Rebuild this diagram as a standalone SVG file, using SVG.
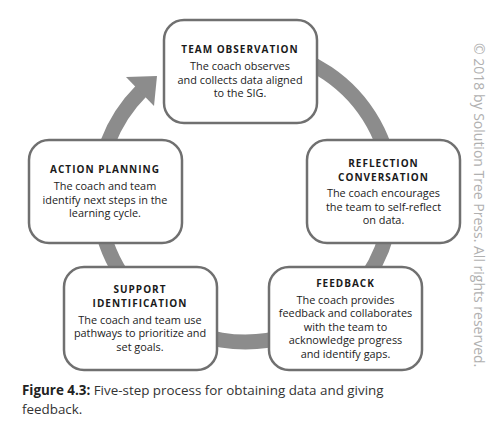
<svg xmlns="http://www.w3.org/2000/svg" width="500" height="425" viewBox="0 0 500 425">
<style>
.box{fill:#fff;stroke:#707070;stroke-width:2.5}
.t{font-family:"Open Sans","Liberation Sans",sans-serif;font-weight:bold;font-size:10px;letter-spacing:1px;fill:#1a1a1a;text-anchor:middle}
.b{font-family:"Open Sans","Liberation Sans",sans-serif;font-size:10.9px;fill:#222;text-anchor:middle}
.cap{font-family:"Open Sans","Liberation Sans",sans-serif;font-size:13.4px;fill:#333}
.copy{font-family:"Open Sans","Liberation Sans",sans-serif;font-size:14px;fill:#b0b0b0}
</style>
<rect width="500" height="425" fill="#fff"/>
<g id="connectors">
<path d="M270.5 50.2 A147 147 0 1 1 141.1 91.1" fill="none" stroke="#8c8c8c" stroke-width="15"/>
<polygon points="126,77 157,76 154,106" fill="#8c8c8c"/>
</g>
<g id="team-observation">
<rect class="box" x="164" y="20" width="153" height="103" rx="20"/>
<text class="t" x="240" y="53">TEAM OBSERVATION</text>
<text class="b" x="240" y="70">The coach observes</text>
<text class="b" x="240" y="83.5">and collects data aligned</text>
<text class="b" x="240" y="97">to the SIG.</text>
</g>
<g id="reflection-conversation">
<rect class="box" x="307" y="140" width="153" height="103" rx="20"/>
<text class="t" x="383.5" y="167">REFLECTION</text>
<text class="t" x="383.5" y="180.5">CONVERSATION</text>
<text class="b" x="383.5" y="197">The coach encourages</text>
<text class="b" x="383.5" y="210.5">the team to self-reflect</text>
<text class="b" x="383.5" y="224">on data.</text>
</g>
<g id="feedback">
<rect class="box" x="269" y="267" width="153" height="103" rx="20"/>
<text class="t" x="345.5" y="287">FEEDBACK</text>
<text class="b" x="345.5" y="303.5">The coach provides</text>
<text class="b" x="345.5" y="317">feedback and collaborates</text>
<text class="b" x="345.5" y="330.5">with the team to</text>
<text class="b" x="345.5" y="344">acknowledge progress</text>
<text class="b" x="345.5" y="357.5">and identify gaps.</text>
</g>
<g id="support-identification">
<rect class="box" x="64" y="267" width="153" height="103" rx="20"/>
<text class="t" x="140" y="293">SUPPORT</text>
<text class="t" x="140" y="306.5">IDENTIFICATION</text>
<text class="b" x="140" y="323.5">The coach and team use</text>
<text class="b" x="140" y="337">pathways to prioritize and</text>
<text class="b" x="140" y="350.5">set goals.</text>
</g>
<g id="action-planning">
<rect class="box" x="29" y="140" width="153" height="103" rx="20"/>
<text class="t" x="105" y="173">ACTION PLANNING</text>
<text class="b" x="105" y="190">The coach and team</text>
<text class="b" x="105" y="203.5">identify next steps in the</text>
<text class="b" x="105" y="217">learning cycle.</text>
</g>
<text class="cap" x="22" y="395"><tspan font-weight="bold" fill="#222">Figure 4.3:</tspan> Five-step process for obtaining data and giving</text>
<text class="cap" x="22" y="413.5">feedback.</text>
<text class="copy" transform="translate(474 43) rotate(90)">© 2018 by Solution Tree Press. All rights reserved.</text>
</svg>
